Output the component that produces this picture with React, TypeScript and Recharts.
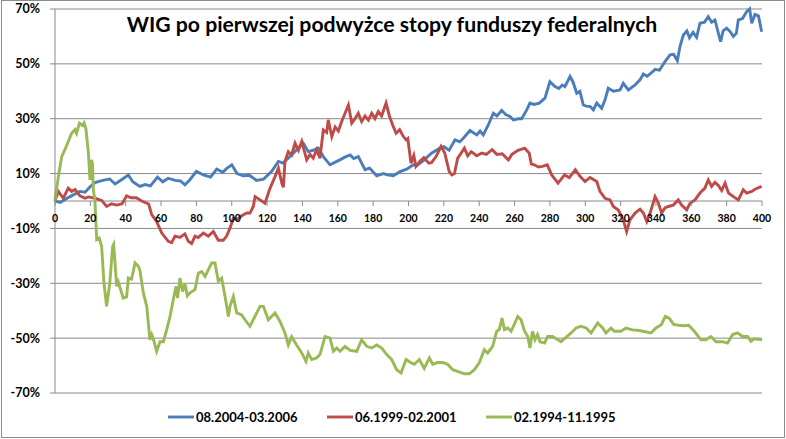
import React from "react";
import { LineChart, Line, XAxis, YAxis, CartesianGrid, ReferenceLine } from "recharts";

const TITLE = "WIG po pierwszej podwyżce stopy funduszy federalnych";
const SERIES_NAMES = ["08.2004-03.2006", "06.1999-02.2001", "02.1994-11.1995"];
const COLORS = ["#4A7EBB", "#BE4B48", "#98B954"];
const X_TICKS = [0, 20, 40, 60, 80, 100, 120, 140, 160, 180, 200, 220, 240, 260, 280, 300, 320, 340, 360, 380, 400];
const Y_TICKS = [-70, -50, -30, -10, 10, 30, 50, 70];

const blueDays = [0,3,8.5,14,17,20,22.6,27,31,34,37,41.5,44,48,51,54,58,61,64,68,71,73.5,76,80,84,88,91.5,95,97,100,103,106.5,110,114,118,122.6,126.4,129,133,136.7,140.5,143.3,146,149,151.8,155.6,158,161.2,164,167,169,171.6,175.4,178,182,185.8,188,191.4,195.2,199,202.7,205,208.4,213,217.8,220,223,226.3,229,231,234.8,238.6,240.5,242.3,245.2,248,250,252.7,255,257.4,259.3,262,264,266.9,268.7,271,274,277.2,280,282.9,285,287,288.5,291.4,293,295.2,297,298.9,301,302.7,304.6,306.5,309.3,311.2,313,316,319.7,321.5,324.4,328.2,331,332.9,335,337,339.5,342,345.1,348,350,352.1,353.6,355.5,357.5,359,361,363,364.9,367.5,369.6,371.5,373.4,375.3,376.6,378,380,382,383.8,385.5,386.6,389,391.3,393,394.2,396,398,399.8];
const blueValues = [0,-0.5,1.6,3.5,3.2,5.3,6.7,7.5,8,6.2,7.5,9.5,7,5.3,6,5.5,8.7,7,8.3,7.5,7.3,5.9,7.5,10.8,9.5,8.7,11.6,10.5,11.8,13.2,10,9.2,9.4,7.5,8,10.8,14.4,13.8,16.2,18.7,21,18,18.5,19.3,16.2,13.2,14,15,16,16.8,15.5,16.2,11.4,12,9.2,10,9.5,9.2,10.7,11.6,13.2,13,14.7,17.4,19.3,19.8,18.5,22.3,21.6,22.9,25.7,24.1,25.5,24.1,27.8,32,31,33,31.5,30.8,29.6,30,30,33.2,35.7,35.2,35.7,37.5,43.5,41.7,41,42.3,41.7,45.4,43.5,39.3,40,35,34.5,34.5,33.2,35.7,33.8,36.9,41.1,40,40.5,42.9,40.5,42.3,44.2,46.3,45.5,46.5,48,47.7,50.8,53.3,53.5,51.2,56.3,60.5,62,59.5,61.5,59.7,64.8,65.2,67.2,65.2,66,61.2,58.1,62,63,61.7,60,61.2,66,66.5,69,70,64.8,68,67.5,61.7];

const redDays = [0,1.9,4.7,7.5,9.4,11.3,14.1,17,19,22.6,26.4,29.2,32,35,38,40.5,43,46,49,53,54.7,57.5,60.4,64.1,66,67.9,70.7,73.5,75.4,77.3,79.2,81,84,86.7,89.6,92.4,95.2,97.1,99,100.9,102.8,105.6,108.5,110.3,112.2,113.2,116,118.8,121.7,124.5,126.4,128.3,129.2,130.1,132,133.9,135.8,137.7,139.6,142.4,144.3,146.1,148,149.9,151.8,153.7,154.6,156.6,158.5,160.3,162.2,164.1,166,167.9,169.7,171.6,173.5,175.4,177.3,179.2,181,182.9,184.8,187.3,189.2,191.4,193,195,197.1,198.6,199.6,201.4,203,204.2,206.5,208.7,211.5,213,215.6,218.4,220.5,223,224.5,226,227.8,229.1,231.6,233.5,235.5,238.6,241.5,244,247.3,250,253,256.5,258.5,262,265.7,268.3,269.5,271.2,273.5,275.8,278.5,281,284.6,288.3,291,294.4,297,299.9,302.7,306.5,308.3,311.2,314,315.9,318.7,321.5,323.4,325.3,328.2,331,332.9,334.8,336.7,339.5,341.4,343.2,345.1,347,349.8,352.6,354.5,357.4,359.3,362.1,364.9,367.7,369.6,371.5,373.4,375.3,377.2,379.1,381,383.8,386.6,389.4,391.3,394.2,396,399.8];
const redValues = [0,3.5,1,4.7,3.5,4.2,1.9,1,1.5,1,0.2,-2,-1,-1.5,-1,1.9,1.2,1.2,0,-1.1,-5,-7.5,-11.7,-14.7,-15.2,-12.8,-13.3,-12,-14.7,-15.5,-12.8,-13.3,-11.7,-12.8,-11.1,-14.3,-14.3,-12.8,-9.9,-6.3,-6.8,-5.4,-4.4,-4.4,-2,1.6,0.4,-0.8,4.7,8.9,12,6.5,5,14.4,18,16.8,21.1,18.5,21.7,15,17,15.6,18.7,15.6,25.9,25,29.6,23.5,27,25.5,29,32,35,28.4,30,32,29,31,29.5,32,30,32.6,31,35.7,31,27.1,24.7,26,23.5,22.3,22.8,13.8,16.6,12.6,14.5,15.8,13.8,14,16.2,19.9,17.5,10.8,9.5,10,15.6,16.8,19.3,16.5,18,16.5,17.5,17,18.7,17,17.2,15,17,18.5,19.3,17.4,13.5,13.2,12.4,12.6,13.2,9.5,6.5,9.5,8.5,11.4,9,7.1,8.6,7.1,3.5,1,0.4,-2,-3.3,-6.9,-11.1,-6.9,-4.4,-3,-4.4,-7.5,-4.4,1.6,-0.8,-4.4,-2.5,-2,-1.5,0.4,-1.5,-3.2,-0.8,0.4,2.9,4.7,7.7,5.3,6.8,5.7,3.8,6.5,3,1.6,0.4,4.1,2.9,3.5,4.3,5.3];

const greenDays = [0,1.9,3.8,5.6,7.5,9.4,11.3,12.2,13.8,15.6,16.4,17.5,18.9,19.8,20.7,21.2,21.7,22.6,23.6,25,26.4,27.7,29.2,31,32.6,33.2,34.9,35.8,37,38.6,40.5,41.5,43.3,45.3,47.2,48.1,50,51.9,53.7,54.7,55.6,57.5,59.4,61.3,63.2,65.1,66.9,68.5,69.3,70.7,72.2,73.5,74.9,76.4,79.2,81.1,83,84.9,86.7,88.6,90.5,92.4,94.3,96.2,98.1,99,100.9,102.8,105.6,107.5,110.3,113.2,116,117.9,120.7,124.5,127.3,130.1,132,133.9,136.7,139.6,142,143.3,145.2,148,149.9,152.8,155.6,157.5,159.4,161.2,164.1,167,170.7,173.5,176.4,179.2,182,184.8,187.7,190.5,193.3,195.8,198.6,201.4,203.3,206.1,208.9,211.8,213.7,216.5,219.3,222.1,225,227.8,231.6,234.4,237.3,240.1,242.9,244.8,247.6,249.9,251.4,252.9,254.3,256.2,258.1,261.8,263.7,265.6,267.5,268.7,270.2,271.6,273,274.4,277,278.7,281.5,286.3,289.1,292,294.8,297.6,300.5,303.3,307,309.9,311.7,314.6,316.4,320.2,323,326.8,330.5,337.2,340,343,345.3,347.5,350,352.8,355.7,358.5,361.7,365.5,368.3,371.1,374,377.7,380.5,383.4,386.2,389,391.8,393.8,395.6,400];
const greenValues = [0,8.9,16.2,18.7,21.7,24.7,26,24.7,28.4,27.5,28.4,26.3,17.4,7.7,15,13.5,4,0,-14.1,-13.5,-16.6,-29.9,-38.4,-29.9,-16.6,-15.8,-31.1,-29.5,-32,-35.4,-35,-28.1,-28.5,-22.6,-23.8,-25.5,-33.6,-38.4,-50.6,-48.7,-50.2,-54.8,-51.3,-51.3,-46.9,-42.1,-36,-31.1,-35.4,-28.1,-33,-30.2,-34.6,-33.5,-32.3,-26.3,-25.7,-27.5,-25.1,-22.6,-22.6,-29.3,-28.1,-34.8,-42.1,-38.4,-34.8,-40.8,-41.5,-43.3,-45.7,-42,-38.4,-38.4,-43.3,-40.8,-43.9,-48.1,-52.5,-49.5,-52.5,-55.4,-58.5,-55.4,-57.8,-57.2,-56,-49.4,-50,-54.8,-53.6,-54.8,-53,-54.5,-54.8,-50.6,-53,-53.6,-52.5,-53.6,-56,-57.8,-61.5,-62.7,-57.8,-59,-59.5,-57.8,-61,-57.2,-59.5,-58.9,-58.9,-59.5,-61.5,-62.1,-63,-63,-61.5,-58.9,-54.2,-55.4,-53,-47.5,-46.9,-42.7,-46.9,-46.3,-47.5,-42.1,-43.3,-47.4,-49.4,-53.6,-47.5,-50.6,-48.7,-51.3,-51.8,-49.4,-49.4,-51.3,-49.7,-48.1,-46.3,-45.7,-46.3,-48.1,-44.5,-46.3,-48.1,-46.3,-47.5,-47.5,-46.3,-47,-47.2,-48.1,-46.3,-45.1,-42.1,-42.7,-45,-45.3,-45.5,-45.3,-47.5,-50.6,-50.6,-49.4,-51.3,-51.3,-51.8,-48.7,-48.1,-49.4,-49.4,-51.2,-50.2,-50.6];

const toData = (days: number[], values: number[]) => days.map((d, i) => ({ x: d, v: values[i] }));
const seriesData = [toData(blueDays, blueValues), toData(redDays, redValues), toData(greenDays, greenValues)];

const W = 786;
const H = 439;
const X_AXIS_H = 1;
const MARGIN = { top: 9, right: 24, bottom: 45, left: 0 };
const Y_MIN = -70;
const Y_MAX = 70;
const PLOT_H = H - MARGIN.top - MARGIN.bottom - X_AXIS_H;
const ZERO_Y = MARGIN.top + (PLOT_H * Y_MAX) / (Y_MAX - Y_MIN);
const GRID = "#8a8a8a";
const FONT = "Lato, 'Open Sans', sans-serif";

const XTick = (props: any) => {
  const { x, payload } = props;
  return (
    <g>
      <line x1={x} x2={x} y1={ZERO_Y} y2={ZERO_Y + 5} stroke={GRID} strokeWidth={1} />
      <text x={x} y={ZERO_Y + 21} textAnchor="middle" fontFamily={FONT} fontWeight={700} fontSize={10.5} fill="#000">
        {payload.value}
      </text>
    </g>
  );
};

const legendItems = [
  { lx: 168, tx: 196 },
  { lx: 327, tx: 355 },
  { lx: 486, tx: 514 },
];

export default function App() {
  return (
    <div style={{ position: "absolute", left: 0, top: 0, width: W, height: H, background: "#fff" }}>
      <LineChart width={W} height={H} margin={MARGIN}>
        <CartesianGrid horizontal vertical={false} stroke={GRID} strokeWidth={1} />
        <XAxis
          type="number"
          dataKey="x"
          domain={[0, 400]}
          ticks={X_TICKS}
          interval={0}
          height={X_AXIS_H}
          axisLine={false}
          tickLine={false}
          tick={<XTick />}
          allowDuplicatedCategory={false}
        />
        <YAxis
          type="number"
          domain={[Y_MIN, Y_MAX]}
          ticks={Y_TICKS}
          interval={0}
          width={55}
          axisLine={{ stroke: GRID }}
          tickLine={{ stroke: GRID }}
          tickSize={5}
          tickMargin={10}
          tickFormatter={(v: number) => `${v}%`}
          tick={{ fontFamily: FONT, fontWeight: 700, fontSize: 12.5, fill: "#000" }}
        />
        <ReferenceLine y={0} stroke={GRID} strokeWidth={1} />
        {seriesData.map((d, i) => (
          <Line
            key={SERIES_NAMES[i]}
            data={d}
            dataKey="v"
            name={SERIES_NAMES[i]}
            type="linear"
            stroke={COLORS[i]}
            strokeWidth={2.9}
            dot={false}
            activeDot={false}
            isAnimationActive={false}
          />
        ))}
      </LineChart>
      <svg width={W} height={H} style={{ position: "absolute", left: 0, top: 0, pointerEvents: "none" }}>
        <text x={392} y={32} textAnchor="middle" fontFamily={FONT} fontWeight={700} fontSize={21.2} fill="#000">
          {TITLE}
        </text>
        {legendItems.map((it, i) => (
          <g key={i}>
            <line x1={it.lx} x2={it.lx + 26} y1={417} y2={417} stroke={COLORS[i]} strokeWidth={2.9} />
            <text x={it.tx} y={421.5} fontFamily={FONT} fontWeight={700} fontSize={13} fill="#000">
              {SERIES_NAMES[i]}
            </text>
          </g>
        ))}
        <rect x={1.5} y={0.5} width={783} height={437} fill="none" stroke="#8c8c8c" strokeWidth={1} />
      </svg>
    </div>
  );
}
